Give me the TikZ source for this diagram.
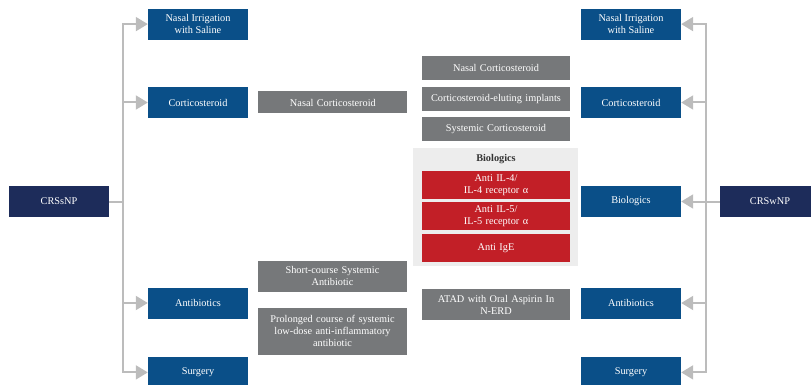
\documentclass[tikz,border=0pt]{standalone}
\usepackage{fontspec}
\setmainfont{Liberation Serif}
\usepackage{tikz}
\usetikzlibrary{positioning,arrows.meta}

\definecolor{navy}{HTML}{1D2C5A}
\definecolor{tblue}{HTML}{0A4F88}
\definecolor{tgray}{HTML}{76787A}
\definecolor{tred}{HTML}{C21F27}
\definecolor{panelgray}{HTML}{EDEDED}
\definecolor{linegray}{HTML}{BCBCBC}

\begin{document}
\begin{tikzpicture}[x=1pt,y=-1pt,
  font=\fontsize{10.3}{12}\selectfont,
  root/.style={fill=navy, text=white, minimum width=100pt, minimum height=31pt, inner sep=0pt},
  treat/.style={fill=tblue, text=white, minimum width=100pt, minimum height=31pt, inner sep=0pt, align=center},
  option/.style={fill=tgray, text=white, minimum width=148pt, minimum height=24pt, inner sep=0pt, text width=146pt, align=center},
  bio/.style={fill=tred, text=white, minimum width=148pt, minimum height=28pt, inner sep=0pt, text width=146pt, align=center},
  conn/.style={draw=linegray, line width=2pt, -{Triangle[width=14pt,length=12pt]}}]

  \useasboundingbox (0,0) rectangle (811,385);

  \node[root] (sn) at (59,201.5) {CRSsNP};
  \node[root] (wn) at (770,201.5) {CRSwNP};
  \coordinate (trunk_l) at (123,201.5);
  \coordinate (trunk_r) at (706,201.5);

  \node[treat] (cort_l) at (198,102.5) {Corticosteroid};
  \node[treat, above=47pt of cort_l] (irr_l) {Nasal Irrigation\\with Saline};
  \node[treat] (anti_l) at (198,303) {Antibiotics};
  \node[treat, below=38pt of anti_l] (surg_l) {Surgery};

  \node[option, minimum width=149pt, minimum height=22pt, right=10pt of cort_l] (ncs_l) {Nasal Corticosteroid};
  \node[option, minimum width=149pt, minimum height=31pt] (short_l) at (332.5,276) {Short-course Systemic\\Antibiotic};
  \node[option, minimum width=149pt, minimum height=47pt, below=16pt of short_l] (long_l) {Prolonged course of systemic\\low-dose anti-inflammatory\\antibiotic};

  \node[option] (impl_c) at (496,99) {Corticosteroid-eluting implants};
  \node[option, above=7pt of impl_c] (ncs_c) {Nasal Corticosteroid};
  \node[option, below=6pt of impl_c] (sys_c) {Systemic Corticosteroid};

  \node[fill=panelgray, minimum width=165pt, minimum height=118pt, inner sep=0pt] (bio_panel) at (495.5,207) {};
  \node[text=black!80, font=\fontsize{10.3}{12}\selectfont\bfseries] (bio_head) at (496,159) {Biologics};
  \node[bio] (il4) at (496,185) {Anti IL-4/\\IL-4 receptor α};
  \node[bio, below=3pt of il4] (il5) {Anti IL-5/\\IL-5 receptor α};
  \node[bio, below=3pt of il5] (ige) {Anti IgE};
  \node[option, minimum height=31pt] (atad_c) at (496,304.5) {ATAD with Oral Aspirin In\\N-ERD};

  \node[treat] (cort_r) at (631,102.5) {Corticosteroid};
  \node[treat, above=47pt of cort_r] (irr_r) {Nasal Irrigation\\with Saline};
  \node[treat] (biol_r) at (631,201.5) {Biologics};
  \node[treat] (anti_r) at (631,303) {Antibiotics};
  \node[treat, below=38pt of anti_r] (surg_r) {Surgery};

  \draw[conn] (sn.east) -- (trunk_l) |- (irr_l.west);
  \draw[conn] (sn.east) -- (trunk_l) |- (cort_l.west);
  \draw[conn] (sn.east) -- (trunk_l) |- (anti_l.west);
  \draw[conn] (sn.east) -- (trunk_l) |- (surg_l.west);

  \draw[conn] (wn.west) -- (trunk_r) |- (irr_r.east);
  \draw[conn] (wn.west) -- (trunk_r) |- (cort_r.east);
  \draw[conn] (wn.west) -- (biol_r.east);
  \draw[conn] (wn.west) -- (trunk_r) |- (anti_r.east);
  \draw[conn] (wn.west) -- (trunk_r) |- (surg_r.east);

\end{tikzpicture}
\end{document}
